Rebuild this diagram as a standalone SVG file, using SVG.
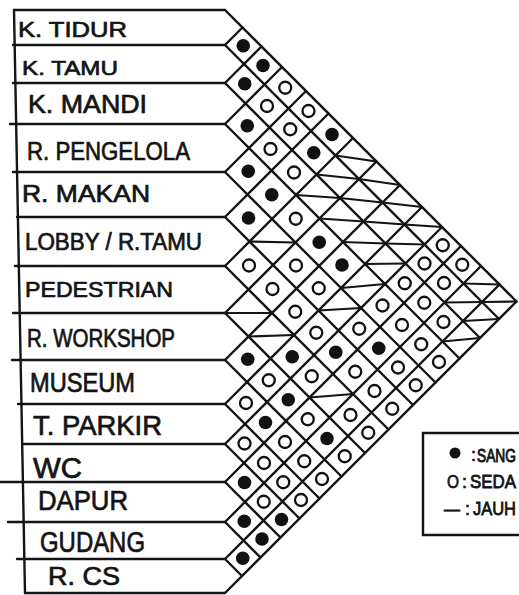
<svg xmlns="http://www.w3.org/2000/svg" width="519" height="595" viewBox="0 0 519 595">
<style>
.g{stroke:#141414;stroke-width:2.4;fill:none;stroke-linecap:round}
.j{stroke:#141414;stroke-width:2.2;fill:none;stroke-linecap:round}
.t{font-family:"Liberation Sans",Arial,sans-serif;fill:#141414;stroke:#141414;stroke-width:0.7}
.f{fill:#111}
.o{fill:none;stroke:#111;stroke-width:2.3}
</style>
<defs>
<circle id="dot" class="f" r="6.8"/>
<circle id="ring" class="o" r="6"/>
</defs>
<rect width="519" height="595" fill="#fff"/>
<g id="connectors">
<g id="frame" class="g">
<path d="M14 10 L25 593"/>
<path d="M14 10 H225"/>
<path d="M13 45 H225"/>
<path d="M13 83 H225"/>
<path d="M10 124 H225"/>
<path d="M13 172 H225"/>
<path d="M17 217 H225"/>
<path d="M15 266 H225"/>
<path d="M13 313 H225"/>
<path d="M12 360 H225"/>
<path d="M18 404 H225"/>
<path d="M22 444 H225"/>
<path d="M0 482 H225"/>
<path d="M8 522 H225"/>
<path d="M17 559 H225"/>
<path d="M25 593 H225"/>
</g>
<g id="grid" class="g">
<path d="M225 10 L516.5 301.5"/>
<path d="M225 45 L499 319 M225 45 L242.5 27.5"/>
<path d="M225 83 L480 338 M225 83 L261.5 46.5"/>
<path d="M225 124 L459.5 358.5 M225 124 L282 67"/>
<path d="M225 172 L435.5 382.5 M225 172 L306 91"/>
<path d="M225 217 L413 405 M225 217 L328.5 113.5"/>
<path d="M225 266 L388.5 429.5 M225 266 L353 138"/>
<path d="M225 313 L365 453 M225 313 L376.5 161.5"/>
<path d="M225 360 L341.5 476.5 M225 360 L400 185"/>
<path d="M225 404 L319.5 498.5 M225 404 L422 207"/>
<path d="M225 444 L299.5 518.5 M225 444 L442 227"/>
<path d="M225 482 L280.5 537.5 M225 482 L461 246"/>
<path d="M225 522 L260.5 557.5 M225 522 L481 266"/>
<path d="M225 559 L242 576 M225 559 L499.5 284.5"/>
<path d="M225 593 L516.5 301.5"/>
</g>
<g id="far" class="j">
<path d="M335.5 155.5 L376.5 161.5"/>
<path d="M359 179 L400 185"/>
<path d="M382.5 202.5 L422 207"/>
<path d="M404.5 224.5 L442 227"/>
<path d="M463.5 283.5 L499.5 284.5"/>
<path d="M482 302 L516.5 301.5"/>
<path d="M316.5 174.5 L359 179"/>
<path d="M340 198 L382.5 202.5"/>
<path d="M363.5 221.5 L404.5 224.5"/>
<path d="M385.5 243.5 L424.5 244.5"/>
<path d="M444.5 302.5 L482 302"/>
<path d="M463 321 L499 319"/>
<path d="M296 195 L340 198"/>
<path d="M319.5 218.5 L363.5 221.5"/>
<path d="M343 242 L385.5 243.5"/>
<path d="M365 264 L405.5 263.5"/>
<path d="M442.5 341.5 L480 338"/>
<path d="M341 288 L385 284"/>
<path d="M249.5 241.5 L295.5 242.5"/>
<path d="M318.5 310.5 L361 308"/>
<path d="M225 313 L272 313"/>
<path d="M248.5 336.5 L294 335"/>
<path d="M309.5 397.5 L353 394"/>
</g>
</g>
<g id="cells">
<use href="#dot" x="243.25" y="45.75"/>
<use href="#dot" x="263" y="65.5"/>
<use href="#ring" x="285.25" y="87.75"/>
<use href="#ring" x="308.5" y="111"/>
<use href="#dot" x="332" y="134.5"/>
<use href="#ring" x="442.75" y="245.25"/>
<use href="#ring" x="462.25" y="264.75"/>

<use href="#dot" x="244.75" y="83.75"/>
<use href="#ring" x="267" y="106"/>
<use href="#ring" x="290.25" y="129.25"/>
<use href="#dot" x="313.75" y="152.75"/>
<use href="#ring" x="424.5" y="263.5"/>
<use href="#ring" x="444" y="283"/>

<use href="#dot" x="247.25" y="125.75"/>
<use href="#ring" x="270.5" y="149"/>
<use href="#ring" x="294" y="172.5"/>
<use href="#ring" x="404.75" y="283.25"/>
<use href="#ring" x="424.25" y="302.75"/>
<use href="#ring" x="443.5" y="322"/>

<use href="#dot" x="248.25" y="171.25"/>
<use href="#dot" x="271.75" y="194.75"/>
<use href="#ring" x="295.75" y="218.75"/>
<use href="#dot" x="319.25" y="242.25"/>
<use href="#dot" x="342" y="265"/>
<use href="#ring" x="382.5" y="305.5"/>
<use href="#ring" x="402" y="325"/>
<use href="#ring" x="421.25" y="344.25"/>
<use href="#ring" x="439" y="362"/>

<use href="#dot" x="248.5" y="218"/>
<use href="#ring" x="296" y="265.5"/>
<use href="#ring" x="318.75" y="288.25"/>
<use href="#ring" x="359.25" y="328.75"/>
<use href="#dot" x="378.75" y="348.25"/>
<use href="#ring" x="398" y="367.5"/>
<use href="#ring" x="415.75" y="385.25"/>

<use href="#ring" x="249" y="265.5"/>
<use href="#ring" x="272.5" y="289"/>
<use href="#ring" x="295.25" y="311.75"/>
<use href="#ring" x="316.25" y="332.75"/>
<use href="#dot" x="335.75" y="352.25"/>
<use href="#ring" x="355.25" y="371.75"/>
<use href="#ring" x="374.5" y="391"/>
<use href="#ring" x="392.25" y="408.75"/>

<use href="#dot" x="292.25" y="356.75"/>
<use href="#ring" x="311.75" y="376.25"/>
<use href="#ring" x="350.5" y="415"/>
<use href="#ring" x="368.25" y="432.75"/>

<use href="#dot" x="247.75" y="359.25"/>
<use href="#ring" x="268.75" y="380.25"/>
<use href="#dot" x="288.25" y="399.75"/>
<use href="#ring" x="307.75" y="419.25"/>
<use href="#dot" x="327" y="438.5"/>
<use href="#ring" x="344.75" y="456.25"/>

<use href="#ring" x="246" y="403"/>
<use href="#dot" x="265.5" y="422.5"/>
<use href="#ring" x="285" y="442"/>
<use href="#ring" x="304.25" y="461.25"/>
<use href="#ring" x="322" y="479"/>

<use href="#ring" x="244.5" y="443.5"/>
<use href="#ring" x="264" y="463"/>
<use href="#ring" x="283.25" y="482.25"/>
<use href="#ring" x="301" y="500"/>

<use href="#dot" x="244.5" y="482.5"/>
<use href="#ring" x="263.75" y="501.75"/>
<use href="#dot" x="281.5" y="519.5"/>

<use href="#dot" x="244.25" y="521.25"/>
<use href="#dot" x="262" y="539"/>

<use href="#dot" x="242.75" y="558.25"/>
</g>
<g id="row-k-tidur"><text class="t" x="18" y="37" font-size="22" textLength="109" lengthAdjust="spacingAndGlyphs">K. TIDUR</text></g>
<g id="row-k-tamu"><text class="t" x="22" y="75" font-size="21" textLength="96" lengthAdjust="spacingAndGlyphs">K. TAMU</text></g>
<g id="row-k-mandi"><text class="t" x="28" y="113" font-size="25" textLength="119" lengthAdjust="spacingAndGlyphs">K. MANDI</text></g>
<g id="row-r-pengelola"><text class="t" x="27" y="160" font-size="26" textLength="163" lengthAdjust="spacingAndGlyphs">R. PENGELOLA</text></g>
<g id="row-r-makan"><text class="t" x="22" y="202" font-size="24" textLength="128" lengthAdjust="spacingAndGlyphs">R. MAKAN</text></g>
<g id="row-lobby"><text class="t" x="25" y="250" font-size="23" textLength="177" lengthAdjust="spacingAndGlyphs">LOBBY / R.TAMU</text></g>
<g id="row-pedestrian"><text class="t" x="25" y="297" font-size="22" textLength="148" lengthAdjust="spacingAndGlyphs">PEDESTRIAN</text></g>
<g id="row-r-workshop"><text class="t" x="27" y="347" font-size="25" textLength="148" lengthAdjust="spacingAndGlyphs">R. WORKSHOP</text></g>
<g id="row-museum"><text class="t" x="30" y="392" font-size="27" textLength="105" lengthAdjust="spacingAndGlyphs">MUSEUM</text></g>
<g id="row-t-parkir"><text class="t" x="33" y="435" font-size="27" textLength="129" lengthAdjust="spacingAndGlyphs">T. PARKIR</text></g>
<g id="row-wc"><text class="t" x="33" y="478" font-size="29" textLength="49" lengthAdjust="spacingAndGlyphs">WC</text></g>
<g id="row-dapur"><text class="t" x="38" y="510" font-size="27" textLength="90" lengthAdjust="spacingAndGlyphs">DAPUR</text></g>
<g id="row-gudang"><text class="t" x="40" y="552" font-size="29" textLength="105" lengthAdjust="spacingAndGlyphs">GUDANG</text></g>
<g id="row-r-cs"><text class="t" x="48" y="585" font-size="25" textLength="72" lengthAdjust="spacingAndGlyphs">R. CS</text></g>
<g id="legend">
<path class="g" d="M522 433 H423 V535 H522"/>
<circle class="f" cx="455" cy="453" r="5.5"/>
<text class="t" x="471" y="461" font-size="18">:</text>
<text class="t" transform="translate(477 462) scale(1 1.3)" font-size="14" textLength="39" lengthAdjust="spacingAndGlyphs">SANG</text>
<text class="t" x="447" y="488" font-size="19" textLength="12" lengthAdjust="spacingAndGlyphs">O</text>
<text class="t" x="462" y="488" font-size="18">:</text>
<text class="t" transform="translate(470 488) scale(1 1.15)" font-size="16" textLength="46" lengthAdjust="spacingAndGlyphs">SEDA</text>
<text class="t" x="444" y="515" font-size="18" textLength="16" lengthAdjust="spacingAndGlyphs">—</text>
<text class="t" x="465" y="515" font-size="18">:</text>
<text class="t" transform="translate(473 515) scale(1 1.15)" font-size="16" textLength="43" lengthAdjust="spacingAndGlyphs">JAUH</text>
</g>
</svg>
